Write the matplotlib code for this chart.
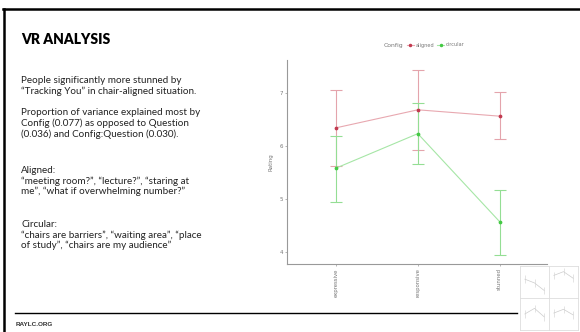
import matplotlib
matplotlib.use("Agg")
import matplotlib.pyplot as plt
from matplotlib.lines import Line2D

# slide text
title = "VR ANALYSIS"
paragraphs = [
    "People significantly more stunned by\n\u201cTracking You\u201d in chair-aligned situation.",
    "Proportion of variance explained most by\nConfig (0.077) as opposed to Question\n(0.036) and Config:Question (0.030).",
    "Aligned:\n\u201cmeeting room?\u201d, \u201clecture?\u201d, \u201cstaring at\nme\u201d, \u201cwhat if overwhelming number?\u201d",
    "Circular:\n\u201cchairs are barriers\u201d, \u201cwaiting area\u201d, \u201cplace\nof study\u201d, \u201cchairs are my audience\u201d",
]
footer = "RAYLC.ORG"

# chart data
questions = ["expressive", "responsive", "stunned"]
aligned_mean = [6.34, 6.68, 6.56]
aligned_lo = [5.62, 5.92, 6.12]
aligned_hi = [7.06, 7.43, 7.01]
circular_mean = [5.58, 6.23, 4.57]
circular_lo = [4.94, 5.66, 3.94]
circular_hi = [6.19, 6.80, 5.16]
yticks = [4, 5, 6, 7]

# faint thumbnail (small facet plot) data
thumb_panels = [
    [5.8, 5.4, 4.6],
    [6.2, 6.6, 5.9],
    [5.5, 6.1, 5.2],
    [5.6, 6.0, 5.4],
]

W, H = 580, 332
fig = plt.figure(figsize=(W / 100, H / 100), dpi=100)
fig.patch.set_facecolor("white")

def fx(px):
    return px / W

def fy(py):
    return 1 - py / H

# slide frame lines
fig.add_artist(Line2D([fx(3), fx(580)], [fy(9), fy(9)], color="black", lw=1.8))
fig.add_artist(Line2D([fx(4), fx(4)], [fy(9), fy(332)], color="black", lw=1.8))
fig.add_artist(Line2D([fx(15), fx(517)], [fy(313), fy(313)], color="black", lw=1.0))

fig.text(fx(21), fy(40), title, fontfamily="Lato", fontweight="heavy", fontsize=10,
         va="center", ha="left", color="black")
para_y = [76, 108, 166, 220]
for t, y in zip(paragraphs, para_y):
    fig.text(fx(21), fy(y), t, fontfamily="Lato", fontsize=7.1, va="top", ha="left",
             color="#222222", linespacing=1.17)
fig.text(fx(16), fy(324), footer, fontfamily="Liberation Sans", fontweight="bold",
         fontsize=4.6, va="center", ha="left", color="#333333")

# main chart
ax = fig.add_axes([fx(287), fy(264), fx(547) - fx(287), fy(60) - fy(264)])
x = list(range(1, len(questions) + 1))

def draw(mean, lo, hi, lc, mc, ec):
    ax.plot(x, mean, color=lc, lw=0.8, zorder=2)
    yerr = [[m - l for m, l in zip(mean, lo)], [h - m for m, h in zip(mean, hi)]]
    ax.errorbar(x, mean, yerr=yerr, fmt="none", ecolor=ec, elinewidth=0.8,
                capsize=4.5, capthick=0.8, zorder=2)
    ax.plot(x, mean, "o", color=mc, ms=1.7, zorder=3)

draw(aligned_mean, aligned_lo, aligned_hi, "#e8a8b0", "#c23a50", "#e4a4ac")
draw(circular_mean, circular_lo, circular_hi, "#a6e6a6", "#44c944", "#94de94")

ax.set_xlim(0.4, 3.58)
ax.set_ylim(3.77, 7.62)
ax.set_xticks(x)
ax.set_xticklabels(questions, rotation=90, fontsize=3.9, color="#777777")
ax.set_yticks(yticks)
ax.set_yticklabels([str(v) for v in yticks], fontsize=4, color="#777777")
ax.tick_params(length=1.5, width=0.5, color="#999999", pad=1.5)
for s in ["top", "right"]:
    ax.spines[s].set_visible(False)
for s in ["left", "bottom"]:
    ax.spines[s].set_color("#999999")
    ax.spines[s].set_linewidth(0.8)
ax.set_ylabel("Rating", fontsize=4, color="#777777", labelpad=4)

# legend on top
h0 = Line2D([], [], linestyle="none")
h1 = Line2D([], [], color="#e8a8b0", lw=0.8, marker="o", ms=1.5, mfc="#c23a50", mec="#c23a50")
h2 = Line2D([], [], color="#a6e6a6", lw=0.8, marker="o", ms=1.5, mfc="#44c944", mec="#44c944")
leg = ax.legend([h0, h1, h2], ["Config", "aligned", "circular"], ncol=3,
                loc="center", bbox_to_anchor=((420 - 287) / 260, (264 - 45) / 204),
                frameon=False, fontsize=3.6, handlelength=1.4, handletextpad=0.4,
                columnspacing=0.6)
for t in leg.get_texts():
    t.set_color("#777777")
leg.get_texts()[0].set_fontsize(4.4)

# faint thumbnail in the bottom-right corner
tx0, ty0 = 520, 266
pw, ph = 29, 32
for i, vals in enumerate(thumb_panels):
    r, c = divmod(i, 2)
    tax = fig.add_axes([fx(tx0 + c * pw), fy(ty0 + (r + 1) * ph), fx(pw), ph / H])
    tax.plot([1, 2, 3], vals, color="#cccccc", lw=0.5)
    tax.errorbar([1, 2, 3], vals, yerr=0.4, fmt="none", ecolor="#d0d0d0", elinewidth=0.4)
    tax.set_xlim(0.5, 3.5)
    tax.set_ylim(3.8, 7.2)
    tax.set_xticks([])
    tax.set_yticks([])
    for s in tax.spines.values():
        s.set_color("#dddddd")
        s.set_linewidth(0.6)

fig.savefig("out.png", dpi=100)
